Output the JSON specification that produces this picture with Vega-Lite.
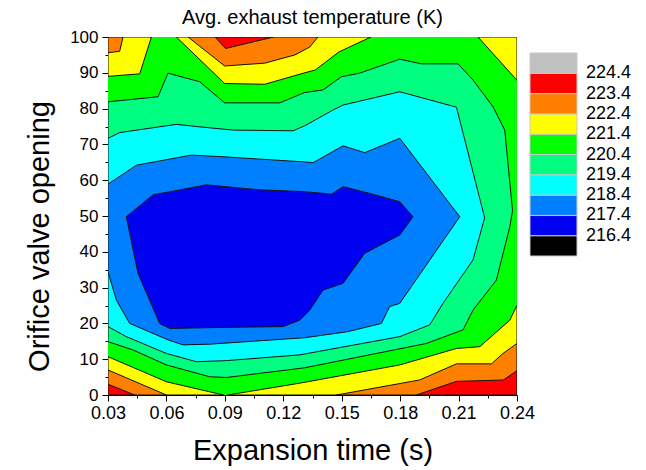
{
 "$schema": "https://vega.github.io/schema/vega-lite/v6.json",
 "width": 409, "height": 358,
 "autosize": {"type": "none"},
 "padding": {"left": 108, "top": 37, "right": 129, "bottom": 75},
 "background": "white",
 "config": {"view": {"stroke": null}, "font": "Liberation Sans"},
 "title": {"text": "Avg. exhaust temperature (K)", "font": "Liberation Sans", "fontSize": 20, "fontWeight": "normal", "color": "black", "anchor": "middle", "frame": "group", "offset": 0},
 "datasets": {
  "base": [
   {"id":"B","i":0,"x":0.03,"y":0,"T":220.9},{"id":"B","i":1,"x":0.24,"y":0,"T":220.9},{"id":"B","i":2,"x":0.24,"y":100,"T":220.9},{"id":"B","i":3,"x":0.03,"y":100,"T":220.9}
  ],
  "sg": [
   {"id":"S","i":0,"x":0.03,"y":81.9,"T":219.9},{"id":"S","i":1,"x":0.0557,"y":83.3,"T":219.9},{"id":"S","i":2,"x":0.0608,"y":89.9,"T":219.9},{"id":"S","i":3,"x":0.0771,"y":87.5,"T":219.9},{"id":"S","i":4,"x":0.0899,"y":81.6,"T":219.9},{"id":"S","i":5,"x":0.1182,"y":81.6,"T":219.9},{"id":"S","i":6,"x":0.131,"y":84.5,"T":219.9},{"id":"S","i":7,"x":0.1404,"y":85.2,"T":219.9},{"id":"S","i":8,"x":0.1498,"y":88.9,"T":219.9},{"id":"S","i":9,"x":0.1592,"y":89.9,"T":219.9},{"id":"S","i":10,"x":0.1798,"y":93.8,"T":219.9},{"id":"S","i":11,"x":0.1909,"y":92.5,"T":219.9},{"id":"S","i":12,"x":0.2097,"y":92.5,"T":219.9},{"id":"S","i":13,"x":0.2174,"y":88.0,"T":219.9},{"id":"S","i":14,"x":0.2277,"y":80.5,"T":219.9},{"id":"S","i":15,"x":0.2337,"y":74.0,"T":219.9},{"id":"S","i":16,"x":0.2377,"y":51.5,"T":219.9},{"id":"S","i":17,"x":0.2363,"y":47.0,"T":219.9},{"id":"S","i":18,"x":0.2294,"y":32.1,"T":219.9},{"id":"S","i":19,"x":0.2174,"y":23.7,"T":219.9},{"id":"S","i":20,"x":0.2123,"y":18.2,"T":219.9},{"id":"S","i":21,"x":0.1935,"y":14.4,"T":219.9},{"id":"S","i":22,"x":0.131,"y":7.6,"T":219.9},{"id":"S","i":23,"x":0.0908,"y":4.9,"T":219.9},{"id":"S","i":24,"x":0.0822,"y":5.1,"T":219.9},{"id":"S","i":25,"x":0.06,"y":8.4,"T":219.9},{"id":"S","i":26,"x":0.0428,"y":12.6,"T":219.9},{"id":"S","i":27,"x":0.03,"y":14.9,"T":219.9},{"id":"S","i":28,"x":0.03,"y":81.9,"T":219.9}
  ],
  "cy": [
   {"id":"C","i":0,"x":0.03,"y":71.7,"T":218.9},{"id":"C","i":1,"x":0.036,"y":73.3,"T":218.9},{"id":"C","i":2,"x":0.0651,"y":75.6,"T":218.9},{"id":"C","i":3,"x":0.0771,"y":74.9,"T":218.9},{"id":"C","i":4,"x":0.0942,"y":74.0,"T":218.9},{"id":"C","i":5,"x":0.125,"y":73.8,"T":218.9},{"id":"C","i":6,"x":0.131,"y":75.2,"T":218.9},{"id":"C","i":7,"x":0.1455,"y":79.6,"T":218.9},{"id":"C","i":8,"x":0.1507,"y":81.0,"T":218.9},{"id":"C","i":9,"x":0.1798,"y":84.7,"T":218.9},{"id":"C","i":10,"x":0.2089,"y":80.4,"T":218.9},{"id":"C","i":11,"x":0.2234,"y":49.5,"T":218.9},{"id":"C","i":12,"x":0.2174,"y":37.7,"T":218.9},{"id":"C","i":13,"x":0.202,"y":25.6,"T":218.9},{"id":"C","i":14,"x":0.1952,"y":19.6,"T":218.9},{"id":"C","i":15,"x":0.1798,"y":16.3,"T":218.9},{"id":"C","i":16,"x":0.1284,"y":11.2,"T":218.9},{"id":"C","i":17,"x":0.0908,"y":9.6,"T":218.9},{"id":"C","i":18,"x":0.0754,"y":9.3,"T":218.9},{"id":"C","i":19,"x":0.06,"y":11.6,"T":218.9},{"id":"C","i":20,"x":0.0394,"y":16.3,"T":218.9},{"id":"C","i":21,"x":0.03,"y":19.1,"T":218.9},{"id":"C","i":22,"x":0.03,"y":71.7,"T":218.9}
  ],
  "az": [
   {"id":"A","i":0,"x":0.03,"y":58.9,"T":217.9},{"id":"A","i":1,"x":0.0446,"y":64.2,"T":217.9},{"id":"A","i":2,"x":0.0728,"y":67.0,"T":217.9},{"id":"A","i":3,"x":0.0874,"y":66.6,"T":217.9},{"id":"A","i":4,"x":0.131,"y":65.1,"T":217.9},{"id":"A","i":5,"x":0.1353,"y":64.9,"T":217.9},{"id":"A","i":6,"x":0.1507,"y":69.6,"T":217.9},{"id":"A","i":7,"x":0.1618,"y":67.7,"T":217.9},{"id":"A","i":8,"x":0.1798,"y":71.7,"T":217.9},{"id":"A","i":9,"x":0.2106,"y":49.8,"T":217.9},{"id":"A","i":10,"x":0.1798,"y":25.6,"T":217.9},{"id":"A","i":11,"x":0.1746,"y":24.7,"T":217.9},{"id":"A","i":12,"x":0.1704,"y":20.0,"T":217.9},{"id":"A","i":13,"x":0.1532,"y":17.7,"T":217.9},{"id":"A","i":14,"x":0.131,"y":16.0,"T":217.9},{"id":"A","i":15,"x":0.0822,"y":14.2,"T":217.9},{"id":"A","i":16,"x":0.0685,"y":14.0,"T":217.9},{"id":"A","i":17,"x":0.0608,"y":15.4,"T":217.9},{"id":"A","i":18,"x":0.0411,"y":20.0,"T":217.9},{"id":"A","i":19,"x":0.0343,"y":26.5,"T":217.9},{"id":"A","i":20,"x":0.03,"y":34.4,"T":217.9},{"id":"A","i":21,"x":0.03,"y":58.9,"T":217.9}
  ],
  "bl": [
   {"id":"D","i":0,"x":0.0394,"y":49.8,"T":216.9},{"id":"D","i":1,"x":0.0531,"y":55.9,"T":216.9},{"id":"D","i":2,"x":0.0805,"y":58.7,"T":216.9},{"id":"D","i":3,"x":0.1079,"y":57.3,"T":216.9},{"id":"D","i":4,"x":0.131,"y":56.8,"T":216.9},{"id":"D","i":5,"x":0.1447,"y":56.1,"T":216.9},{"id":"D","i":6,"x":0.1507,"y":58.2,"T":216.9},{"id":"D","i":7,"x":0.1644,"y":56.3,"T":216.9},{"id":"D","i":8,"x":0.1798,"y":54.0,"T":216.9},{"id":"D","i":9,"x":0.1866,"y":49.8,"T":216.9},{"id":"D","i":10,"x":0.1798,"y":44.7,"T":216.9},{"id":"D","i":11,"x":0.1618,"y":39.6,"T":216.9},{"id":"D","i":12,"x":0.1507,"y":31.2,"T":216.9},{"id":"D","i":13,"x":0.1404,"y":29.3,"T":216.9},{"id":"D","i":14,"x":0.1336,"y":23.7,"T":216.9},{"id":"D","i":15,"x":0.1284,"y":20.9,"T":216.9},{"id":"D","i":16,"x":0.1199,"y":19.1,"T":216.9},{"id":"D","i":17,"x":0.0908,"y":18.9,"T":216.9},{"id":"D","i":18,"x":0.0617,"y":18.6,"T":216.9},{"id":"D","i":19,"x":0.0565,"y":20.0,"T":216.9},{"id":"D","i":20,"x":0.0454,"y":34.0,"T":216.9},{"id":"D","i":21,"x":0.0394,"y":49.8,"T":216.9}
  ],
  "ye": [
   {"id":"Y1","i":0,"x":0.03,"y":100,"T":221.9},{"id":"Y1","i":1,"x":0.0523,"y":100,"T":221.9},{"id":"Y1","i":2,"x":0.0463,"y":89.7,"T":221.9},{"id":"Y1","i":3,"x":0.03,"y":89.0,"T":221.9},{"id":"Y1","i":4,"x":0.03,"y":100,"T":221.9},
   {"id":"Y2","i":0,"x":0.0651,"y":100,"T":221.9},{"id":"Y2","i":1,"x":0.0899,"y":87.0,"T":221.9},{"id":"Y2","i":2,"x":0.1105,"y":86.8,"T":221.9},{"id":"Y2","i":3,"x":0.131,"y":90.0,"T":221.9},{"id":"Y2","i":4,"x":0.1365,"y":90.8,"T":221.9},{"id":"Y2","i":5,"x":0.1485,"y":95.8,"T":221.9},{"id":"Y2","i":6,"x":0.165,"y":100,"T":221.9},{"id":"Y2","i":7,"x":0.0651,"y":100,"T":221.9},
   {"id":"Y3","i":0,"x":0.22,"y":100,"T":221.9},{"id":"Y3","i":1,"x":0.24,"y":100,"T":221.9},{"id":"Y3","i":2,"x":0.24,"y":87.9,"T":221.9},{"id":"Y3","i":3,"x":0.22,"y":100,"T":221.9},
   {"id":"Y4","i":0,"x":0.03,"y":0,"T":221.9},{"id":"Y4","i":1,"x":0.03,"y":10.7,"T":221.9},{"id":"Y4","i":2,"x":0.06,"y":3.7,"T":221.9},{"id":"Y4","i":3,"x":0.0893,"y":0,"T":221.9},{"id":"Y4","i":4,"x":0.03,"y":0,"T":221.9},
   {"id":"Y5","i":0,"x":0.0915,"y":0,"T":221.9},{"id":"Y5","i":1,"x":0.1284,"y":3.3,"T":221.9},{"id":"Y5","i":2,"x":0.1798,"y":8.4,"T":221.9},{"id":"Y5","i":3,"x":0.2089,"y":13.0,"T":221.9},{"id":"Y5","i":4,"x":0.2209,"y":13.5,"T":221.9},{"id":"Y5","i":5,"x":0.2363,"y":20.9,"T":221.9},{"id":"Y5","i":6,"x":0.24,"y":25.1,"T":221.9},{"id":"Y5","i":7,"x":0.24,"y":0,"T":221.9},{"id":"Y5","i":8,"x":0.0915,"y":0,"T":221.9}
  ],
  "or": [
   {"id":"O1","i":0,"x":0.03,"y":100,"T":222.9},{"id":"O1","i":1,"x":0.0377,"y":100,"T":222.9},{"id":"O1","i":2,"x":0.036,"y":96.0,"T":222.9},{"id":"O1","i":3,"x":0.03,"y":95.6,"T":222.9},{"id":"O1","i":4,"x":0.03,"y":100,"T":222.9},
   {"id":"O2","i":0,"x":0.0711,"y":100,"T":222.9},{"id":"O2","i":1,"x":0.0899,"y":91.9,"T":222.9},{"id":"O2","i":2,"x":0.1105,"y":92.7,"T":222.9},{"id":"O2","i":3,"x":0.126,"y":95.0,"T":222.9},{"id":"O2","i":4,"x":0.1336,"y":97.2,"T":222.9},{"id":"O2","i":5,"x":0.1378,"y":100,"T":222.9},{"id":"O2","i":6,"x":0.0711,"y":100,"T":222.9},
   {"id":"O3","i":0,"x":0.03,"y":0,"T":222.9},{"id":"O3","i":1,"x":0.03,"y":7.0,"T":222.9},{"id":"O3","i":2,"x":0.06,"y":0,"T":222.9},{"id":"O3","i":3,"x":0.03,"y":0,"T":222.9},
   {"id":"O4","i":0,"x":0.1473,"y":0,"T":222.9},{"id":"O4","i":1,"x":0.19,"y":4.2,"T":222.9},{"id":"O4","i":2,"x":0.2089,"y":8.7,"T":222.9},{"id":"O4","i":3,"x":0.2269,"y":8.7,"T":222.9},{"id":"O4","i":4,"x":0.2328,"y":11.6,"T":222.9},{"id":"O4","i":5,"x":0.24,"y":14.4,"T":222.9},{"id":"O4","i":6,"x":0.24,"y":0,"T":222.9},{"id":"O4","i":7,"x":0.1473,"y":0,"T":222.9}
  ],
  "rd": [
   {"id":"R1","i":0,"x":0.085,"y":100,"T":223.9},{"id":"R1","i":1,"x":0.0904,"y":96.8,"T":223.9},{"id":"R1","i":2,"x":0.115,"y":100,"T":223.9},{"id":"R1","i":3,"x":0.085,"y":100,"T":223.9},
   {"id":"R2","i":0,"x":0.03,"y":0,"T":223.9},{"id":"R2","i":1,"x":0.03,"y":3.0,"T":223.9},{"id":"R2","i":2,"x":0.0437,"y":0,"T":223.9},{"id":"R2","i":3,"x":0.03,"y":0,"T":223.9},
   {"id":"R3","i":0,"x":0.1883,"y":0,"T":223.9},{"id":"R3","i":1,"x":0.2089,"y":3.8,"T":223.9},{"id":"R3","i":2,"x":0.233,"y":4.2,"T":223.9},{"id":"R3","i":3,"x":0.24,"y":6.8,"T":223.9},{"id":"R3","i":4,"x":0.24,"y":0,"T":223.9},{"id":"R3","i":5,"x":0.1883,"y":0,"T":223.9}
  ]
 },
 "encoding": {
  "x": {"field": "x", "type": "quantitative",
   "scale": {"domain": [0.03, 0.24], "nice": false, "zero": false},
   "axis": {"title": "Expansion time (s)", "values": [0.03,0.045,0.06,0.075,0.09,0.105,0.12,0.135,0.15,0.165,0.18,0.195,0.21,0.225,0.24],
    "labelExpr": "(round(datum.value*1000)%30==0) ? format(datum.value,'.2f') : ''",
    "tickSize": {"condition": {"test": "round(datum.value*1000)%30==0", "value": 6}, "value": 3},
    "labelOverlap": false, "labelFlush": false, "grid": false,
    "domainColor": "black", "tickColor": "black", "labelColor": "black",
    "labelFont": "Liberation Sans", "labelFontSize": 18, "labelPadding": 3,
    "titleFont": "Liberation Sans", "titleFontSize": 29, "titleFontWeight": "normal", "titleColor": "black", "titlePadding": 14}},
  "y": {"field": "y", "type": "quantitative",
   "scale": {"domain": [0, 100], "nice": false, "zero": false},
   "axis": {"title": "Orifice valve opening", "values": [0,5,10,15,20,25,30,35,40,45,50,55,60,65,70,75,80,85,90,95,100],
    "labelExpr": "(datum.value%10==0) ? format(datum.value,'d') : ''",
    "tickSize": {"condition": {"test": "datum.value%10==0", "value": 6}, "value": 3},
    "labelOverlap": false, "labelFlush": false, "grid": false,
    "domainColor": "black", "tickColor": "black", "labelColor": "black",
    "labelFont": "Liberation Sans", "labelFontSize": 17, "labelPadding": 4,
    "titleFont": "Liberation Sans", "titleFontSize": 29, "titleFontWeight": "normal", "titleColor": "black", "titlePadding": 15, "titleY": 199}},
  "order": {"field": "i", "type": "quantitative"},
  "detail": {"field": "id", "type": "nominal"},
  "color": {"field": "T", "type": "quantitative",
   "scale": {"type": "threshold", "domain": [216.4,217.4,218.4,219.4,220.4,221.4,222.4,223.4,224.4],
    "range": ["#000000","#0000F0","#0080FF","#00FFFF","#00FF80","#00FF00","#FFFF00","#FF8000","#FF0000","#C0C0C0"]},
   "legend": {"type": "gradient", "orient": "none", "legendX": 422, "legendY": 16, "direction": "vertical",
    "gradientLength": 203, "gradientThickness": 47, "gradientStrokeColor": "#c8c8c8", "gradientStrokeWidth": 1,
    "labelFont": "Liberation Sans", "labelFontSize": 18, "labelColor": "black", "labelOffset": 9, "labelOverlap": false,
    "format": ".1f", "title": null}}
 },
 "layer": [
  {"data": {"name": "base"}, "mark": {"type": "line", "filled": true, "clip": true, "strokeWidth": 0}},
  {"data": {"name": "sg"}, "mark": {"type": "line", "filled": true, "clip": true, "stroke": "#111111", "strokeWidth": 1}},
  {"data": {"name": "cy"}, "mark": {"type": "line", "filled": true, "clip": true, "stroke": "#111111", "strokeWidth": 1}},
  {"data": {"name": "az"}, "mark": {"type": "line", "filled": true, "clip": true, "stroke": "#111111", "strokeWidth": 1}},
  {"data": {"name": "bl"}, "mark": {"type": "line", "filled": true, "clip": true, "stroke": "#111111", "strokeWidth": 1}},
  {"data": {"name": "ye"}, "mark": {"type": "line", "filled": true, "clip": true, "stroke": "#111111", "strokeWidth": 1}},
  {"data": {"name": "or"}, "mark": {"type": "line", "filled": true, "clip": true, "stroke": "#111111", "strokeWidth": 1}},
  {"data": {"name": "rd"}, "mark": {"type": "line", "filled": true, "clip": true, "stroke": "#111111", "strokeWidth": 1}}
 ]
}
